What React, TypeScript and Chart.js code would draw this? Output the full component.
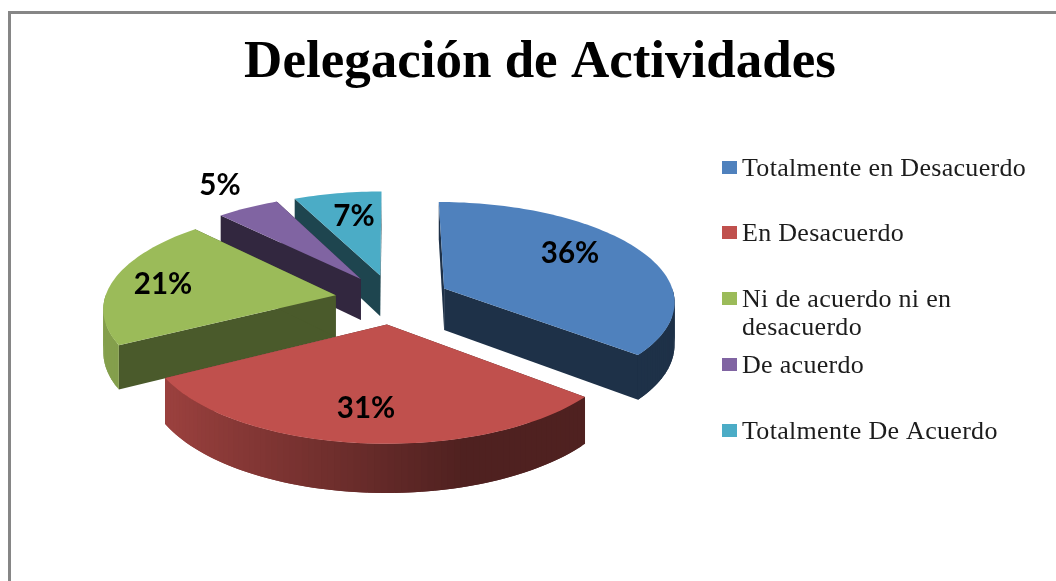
import React, { useEffect, useRef } from "react";
import Chart from "chart.js/auto";

const titleText = "Delegación de Actividades";
const categories = ["Totalmente en Desacuerdo", "En Desacuerdo", "Ni de acuerdo ni en desacuerdo", "De acuerdo", "Totalmente De Acuerdo"];
const percentages = [36, 31, 21, 5, 7];
const colors = ["#4F81BD", "#C0504D", "#9BBB59", "#8064A2", "#4BACC6"];

// Layout and style only: no data
const legendLines = [["Totalmente en Desacuerdo"], ["En Desacuerdo"], ["Ni de acuerdo ni en", "desacuerdo"], ["De acuerdo"], ["Totalmente De Acuerdo"]];
const legendBaselines = [175, 240, 306, 372, 438];
const labelCentres = [[570, 253], [366, 408], [163, 284], [220, 185], [354, 216]];
const wallShades = [0.38, 0.41, 0.48, 0.39, 0.4];

// Projection of the pie's plane on to the page (perspective tilt)
const CX = 392.5, CY = 299, RX = 231, RY = 99, TILT = 0.117, DEPTH = 42, EXPLODE = 0.25;

function project(x: number, y: number) {
  const w = 1 - TILT * y;
  return { x: CX + (RX * x) / w, y: CY + (RY * y) / w, drop: DEPTH / w };
}

function shadeHex(hex: string, s: number) {
  const n = parseInt(hex.slice(1), 16);
  const c = [(n >> 16) & 255, (n >> 8) & 255, n & 255].map((v) => Math.round(v * s));
  return `rgb(${c[0]},${c[1]},${c[2]})`;
}

function quad(ctx: CanvasRenderingContext2D, a: any, b: any, fill: string) {
  ctx.fillStyle = fill;
  ctx.beginPath();
  ctx.moveTo(a.x, a.y);
  ctx.lineTo(b.x, b.y);
  ctx.lineTo(b.x, b.y + b.drop);
  ctx.lineTo(a.x, a.y + a.drop);
  ctx.closePath();
  ctx.fill();
}

function drawSlice(ctx: CanvasRenderingContext2D, arc: any, i: number) {
  const a0 = arc.startAngle, a1 = arc.endAngle, mid = (a0 + a1) / 2;
  const ox = Math.cos(mid) * EXPLODE, oy = Math.sin(mid) * EXPLODE;
  const apex = project(ox, oy);
  const steps = Math.max(8, Math.ceil((a1 - a0) * 40));
  const rim: any[] = [];
  for (let s = 0; s <= steps; s++) {
    const a = a0 + ((a1 - a0) * s) / steps;
    rim.push({ a, ...project(ox + Math.cos(a), oy + Math.sin(a)) });
  }
  const base = colors[i];
  const wall = shadeHex(base, wallShades[i]);
  quad(ctx, apex, rim[0], wall);
  quad(ctx, apex, rim[steps], wall);
  // Each rim piece overlaps the next one, so no seams show between them.
  // Pieces are painted so that the overlap always runs towards the later piece.
  for (let s = 0; s < steps; s++) {
    const m = (rim[s].a + rim[s + 1].a) / 2;
    if (Math.sin(m) <= 0) continue;
    const c = Math.cos(m);
    const shade = Math.min(0.85, wallShades[i] + (c < 0.3 ? (0.3 - c) * 0.34 : 0));
    quad(ctx, rim[s], rim[Math.min(s + 2, steps)], shadeHex(base, shade));
  }
  ctx.fillStyle = base;
  ctx.beginPath();
  ctx.moveTo(apex.x, apex.y);
  rim.forEach((p) => ctx.lineTo(p.x, p.y));
  ctx.closePath();
  ctx.fill();
}

const pie3d = {
  id: "pie3d",
  beforeDraw(chart: any) {
    const { ctx } = chart;
    ctx.save();
    ctx.fillStyle = "#ffffff";
    ctx.fillRect(0, 0, chart.width, chart.height);
    ctx.fillStyle = "#868686";
    ctx.fillRect(8, 11, 3, chart.height - 11);
    ctx.fillRect(8, 11, chart.width - 8, 3);
    ctx.restore();
  },
  beforeDatasetDraw(chart: any, args: any) {
    const { ctx } = chart;
    const arcs = chart.getDatasetMeta(args.index).data;
    const order = arcs
      .map((arc: any, i: number) => ({ arc, i, depth: Math.sin((arc.startAngle + arc.endAngle) / 2) }))
      .sort((p: any, q: any) => p.depth - q.depth);
    ctx.save();
    order.forEach((o: any) => drawSlice(ctx, o.arc, o.i));
    ctx.restore();
    return false;
  },
  afterDraw(chart: any) {
    const { ctx } = chart;
    ctx.save();
    ctx.fillStyle = "#000000";
    ctx.font = "bold 29.5px Lato";
    ctx.textAlign = "center";
    ctx.textBaseline = "middle";
    percentages.forEach((p, i) => ctx.fillText(`${p}%`, labelCentres[i][0], labelCentres[i][1]));
    ctx.font = "26px 'Liberation Serif'";
    ctx.letterSpacing = "0.3px";
    ctx.textAlign = "left";
    ctx.textBaseline = "alphabetic";
    legendLines.forEach((lines, i) => {
      const y = legendBaselines[i];
      ctx.fillStyle = colors[i];
      ctx.fillRect(722, y - 14, 15, 13);
      ctx.fillStyle = "#1c1c1c";
      lines.forEach((line, j) => ctx.fillText(line, 742, y + 1 + j * 28));
    });
    ctx.restore();
  },
};

export default function App() {
  const ref = useRef<HTMLCanvasElement>(null);
  useEffect(() => {
    document.body.style.margin = "0";
    const chart = new Chart(ref.current as HTMLCanvasElement, {
      type: "pie",
      data: {
        labels: categories,
        datasets: [{ data: percentages, backgroundColor: colors, borderWidth: 0 }],
      },
      options: {
        animation: false,
        responsive: false,
        layout: { padding: { left: 24 } },
        plugins: {
          legend: { display: false },
          tooltip: { enabled: false },
          title: {
            display: true,
            text: titleText,
            color: "#000000",
            font: { family: "'Liberation Serif'", size: 53, weight: "bold" },
            padding: { top: 32, bottom: 0 },
          },
        },
      },
      plugins: [pie3d],
    } as any);
    return () => chart.destroy();
  }, []);
  return <canvas ref={ref} width={1056} height={581} style={{ display: "block" }} />;
}
